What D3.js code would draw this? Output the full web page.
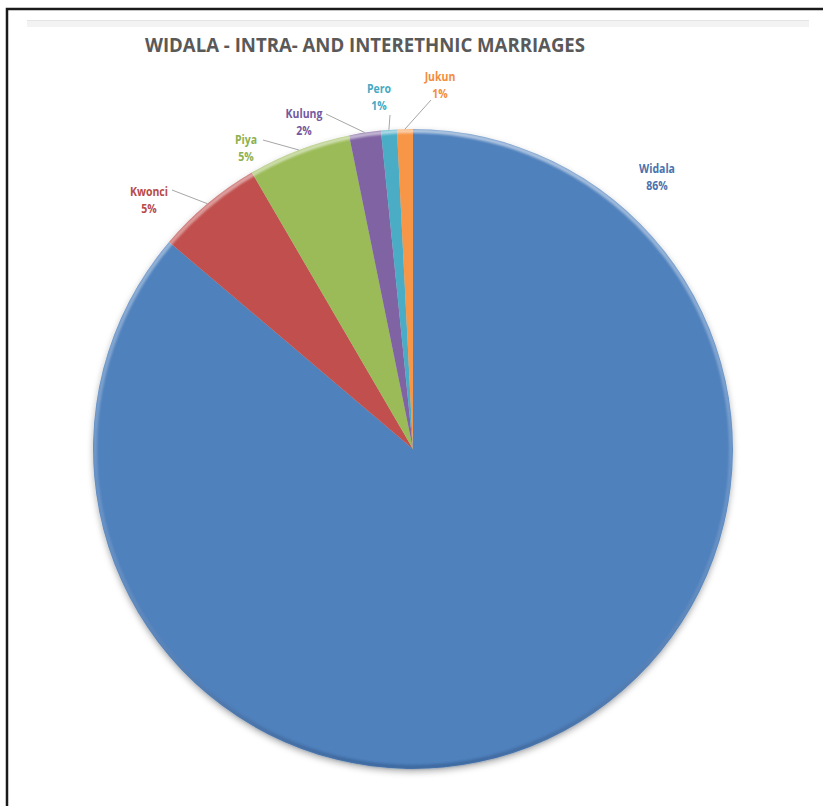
<!DOCTYPE html>
<html>
<head>
<meta charset="utf-8">
<script src="https://cdn.jsdelivr.net/npm/d3@7"></script>
<style>
  html, body { margin: 0; padding: 0; background: #ffffff; }
  svg { display: block; }
</style>
</head>
<body>
<svg id="chart" width="823" height="806"></svg>
<script>
// Marriage partners of Widala people, by ethnic group (percent of marriages)
const categories = ["Widala", "Kwonci", "Piya", "Kulung", "Pero", "Jukun"];
const shares = [86.2, 5.4, 5.2, 1.6, 0.8, 0.8];
const sliceColors = ["#4F81BD", "#C0504D", "#9BBB59", "#8064A2", "#4BACC6", "#F79646"];
const labelColors = ["#4A72AD", "#B84A47", "#8CB04F", "#7459A0", "#45A9C3", "#F38C3C"];
const chartTitle = "WIDALA - INTRA- AND INTERETHNIC MARRIAGES";

// Where each data label sits (centre x, first-line baseline) and where its leader starts
const labelLayout = [
  { x: 657, y: 173, leader: null },
  { x: 149, y: 196, leader: [172, 190] },
  { x: 246, y: 144, leader: [263, 140] },
  { x: 304, y: 118, leader: [326, 114] },
  { x: 379, y: 93,  leader: [390, 115] },
  { x: 440, y: 81,  leader: [431, 100] }
];

const width = 823, height = 806;
const cx = 413, cy = 449, radius = 320;

const svg = d3.select("#chart");
const defs = svg.append("defs");

const shadow = defs.append("filter")
  .attr("id", "pieShadow")
  .attr("x", "-10%").attr("y", "-10%")
  .attr("width", "120%").attr("height", "120%");
shadow.append("feDropShadow")
  .attr("dx", 0).attr("dy", 3)
  .attr("stdDeviation", 3)
  .attr("flood-color", "#000")
  .attr("flood-opacity", 0.3);

const rimBlur = defs.append("filter").attr("id", "rimBlur");
rimBlur.append("feGaussianBlur").attr("stdDeviation", 1.2);

const rimGrad = defs.append("linearGradient")
  .attr("id", "rimGrad")
  .attr("x1", 0).attr("y1", 0).attr("x2", 0).attr("y2", 1);
rimGrad.append("stop").attr("offset", "0%").attr("stop-color", "#ffffff").attr("stop-opacity", 0.55);
rimGrad.append("stop").attr("offset", "55%").attr("stop-color", "#ffffff").attr("stop-opacity", 0.15);
rimGrad.append("stop").attr("offset", "100%").attr("stop-color", "#1f3a66").attr("stop-opacity", 0.35);

// Chart frame (top and left edges visible)
svg.append("rect")
  .attr("x", 7).attr("y", 9)
  .attr("width", width + 20).attr("height", height + 20)
  .attr("fill", "#ffffff")
  .attr("stroke", "#1a1a1a")
  .attr("stroke-width", 2.5);

// faint band under the top edge
svg.append("rect")
  .attr("x", 27).attr("y", 20)
  .attr("width", 782).attr("height", 7)
  .attr("fill", "#f3f3f3");
svg.append("line")
  .attr("x1", 27).attr("x2", 809)
  .attr("y1", 20.5).attr("y2", 20.5)
  .attr("stroke", "#e4e4e4").attr("stroke-width", 1);

// Title
svg.append("text")
  .attr("x", 365).attr("y", 52)
  .attr("text-anchor", "middle")
  .attr("font-family", "'Open Sans', 'DejaVu Sans', sans-serif")
  .attr("font-weight", 700)
  .attr("font-size", 19.5)
  .attr("fill", "#595959")
  .attr("textLength", 440)
  .attr("lengthAdjust", "spacingAndGlyphs")
  .text(chartTitle);

const data = categories.map((name, i) => ({ name, value: shares[i], i }));

const pie = d3.pie()
  .value(d => d.value)
  .sort(null)
  .startAngle(0)
  .endAngle(2 * Math.PI);

const arcs = pie(data);
const arc = d3.arc().innerRadius(0).outerRadius(radius);
const edgeArc = d3.arc().innerRadius(radius).outerRadius(radius);

const g = svg.append("g").attr("transform", `translate(${cx},${cy})`);

g.append("g")
  .attr("filter", "url(#pieShadow)")
  .selectAll("path")
  .data(arcs)
  .join("path")
  .attr("d", arc)
  .attr("fill", d => sliceColors[d.data.i]);

// soft rim along the pie edge
g.append("circle")
  .attr("r", radius - 2)
  .attr("fill", "none")
  .attr("stroke", "url(#rimGrad)")
  .attr("stroke-width", 4)
  .attr("filter", "url(#rimBlur)");

// Leader lines from labels to the slice edge
arcs.forEach(a => {
  const lay = labelLayout[a.data.i];
  if (!lay.leader) return;
  const [ex, ey] = edgeArc.centroid(a);
  svg.append("line")
    .attr("x1", lay.leader[0]).attr("y1", lay.leader[1])
    .attr("x2", cx + ex).attr("y2", cy + ey)
    .attr("stroke", "#a6a6a6")
    .attr("stroke-width", 1);
});

// Data labels: category name and rounded share
const fmt = v => Math.round(v) + "%";
arcs.forEach(a => {
  const lay = labelLayout[a.data.i];
  const t = svg.append("text")
    .attr("text-anchor", "middle")
    .attr("font-family", "'Open Sans', 'DejaVu Sans', sans-serif")
    .attr("font-weight", 700)
    .attr("font-size", 12.5)
    .attr("fill", labelColors[a.data.i]);
  [a.data.name, fmt(a.data.value)].forEach((s, k) => {
    const ts = t.append("tspan")
      .attr("x", lay.x).attr("y", lay.y + k * 17)
      .text(s);
    // narrower set, close to a condensed face
    const natural = ts.node().getComputedTextLength();
    ts.attr("textLength", natural * 0.84).attr("lengthAdjust", "spacingAndGlyphs");
  });
});
</script>
</body>
</html>
